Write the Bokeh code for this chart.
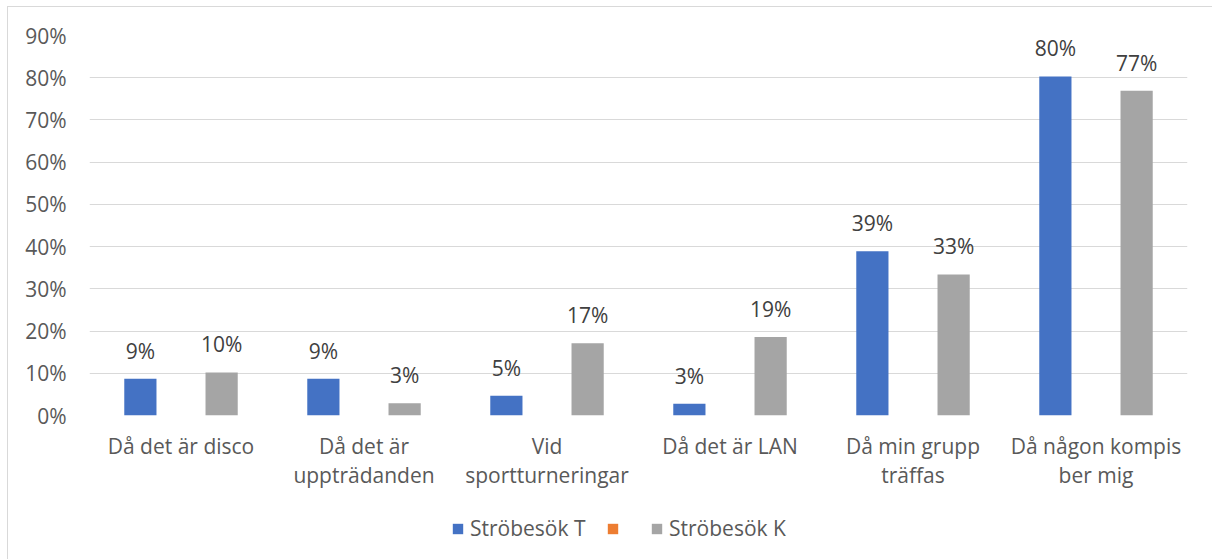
from bokeh.plotting import figure
from bokeh.layouts import column
from bokeh.models import ColumnDataSource, FactorRange, Legend, LegendItem, NumeralTickFormatter, FixedTicker
from bokeh.transform import dodge
from bokeh.core.properties import value
from bokeh.embed import file_html
from bokeh.resources import INLINE

categories = ["Då det är disco", "Då det är\nuppträdanden", "Vid\nsportturneringar",
              "Då det är LAN", "Då min grupp\nträffas", "Då någon kompis\nber mig"]
series_names = ["Ströbesök T", "", "Ströbesök K"]
values_t = [0.087, 0.087, 0.047, 0.028, 0.389, 0.803]
values_mid = [0, 0, 0, 0, 0, 0]
values_k = [0.102, 0.029, 0.171, 0.186, 0.334, 0.769]
y_ticks = [0, 0.1, 0.2, 0.3, 0.4, 0.5, 0.6, 0.7, 0.8, 0.9]

colors = ["#4472C4", "#ED7D31", "#A5A5A5"]
FONT = "Open Sans"
FS = "21px"

src = ColumnDataSource(dict(
    cat=categories, t=values_t, mid=values_mid, k=values_k,
    tl=[f"{round(v*100):.0f}%" for v in values_t],
    kl=[f"{round(v*100):.0f}%" for v in values_k],
))

p = figure(width=1205, height=486, x_range=FactorRange(*categories, range_padding=0),
           y_range=(0, 0.9), output_backend="svg", toolbar_location=None,
           min_border_left=81, min_border_right=26, min_border_top=28, min_border_bottom=78)
p.margin = (6, 0, 0, 7)
p.styles = {"border-top": "1px solid #d9d9d9", "border-left": "1px solid #d9d9d9"}
p.outline_line_color = None
p.xgrid.grid_line_color = None
p.ygrid.grid_line_color = "#d9d9d9"
p.ygrid.grid_line_width = 1
p.yaxis.ticker = FixedTicker(ticks=y_ticks)
p.yaxis.formatter = NumeralTickFormatter(format="0%")
for ax in (p.xaxis, p.yaxis):
    ax.axis_line_color = None
    ax.major_tick_line_color = None
    ax.minor_tick_line_color = None
    ax.major_label_text_font = FONT
    ax.major_label_text_font_size = FS
    ax.major_label_text_color = "#595959"
p.yaxis.major_label_standoff = 17
p.xaxis.major_label_standoff = 10
p.xaxis.major_label_text_line_height = 1.07

off = 0.222
w = 0.176
p.vbar(x=dodge("cat", -off, range=p.x_range), top="t", width=w, source=src,
       fill_color=colors[0], line_color=None)
p.vbar(x=dodge("cat", 0, range=p.x_range), top="mid", width=w, source=src,
       fill_color=colors[1], line_color=None)
p.vbar(x=dodge("cat", off, range=p.x_range), top="k", width=w, source=src,
       fill_color=colors[2], line_color=None)

for col, lab, o in (("t", "tl", -off), ("k", "kl", off)):
    p.text(x=dodge("cat", o, range=p.x_range), y=col, text=lab, source=src,
           text_font=value(FONT), text_font_size=FS, text_color="#404040",
           text_align="center", text_baseline="bottom", y_offset=-14)

# legend strip below the chart
leg = figure(width=1205, height=67, output_backend="svg", toolbar_location=None,
             min_border_left=0, min_border_right=0, min_border_top=0, min_border_bottom=0)
leg.margin = (0, 0, 0, 7)
leg.styles = {"border-left": "1px solid #d9d9d9"}
leg.outline_line_color = None
leg.axis.visible = False
leg.grid.visible = False
lr = [leg.vbar(x=[0], top=[0], width=1, fill_color=c, line_color=None) for c in colors]

legend = Legend(items=[LegendItem(label=(n if n else "\u00a0"), renderers=[r])
                       for n, r in zip(series_names, lr)],
                orientation="horizontal", location=(362, 17),
                glyph_width=13, glyph_height=13, label_standoff=6, spacing=20,
                label_width=0,
                label_text_font=FONT, label_text_font_size=FS, label_text_color="#595959",
                margin=0, padding=0, border_line_color=None, background_fill_alpha=0)
leg.add_layout(legend, "center")

layout = column(p, leg, spacing=0)
open("out.html", "w").write(file_html(layout, INLINE))
